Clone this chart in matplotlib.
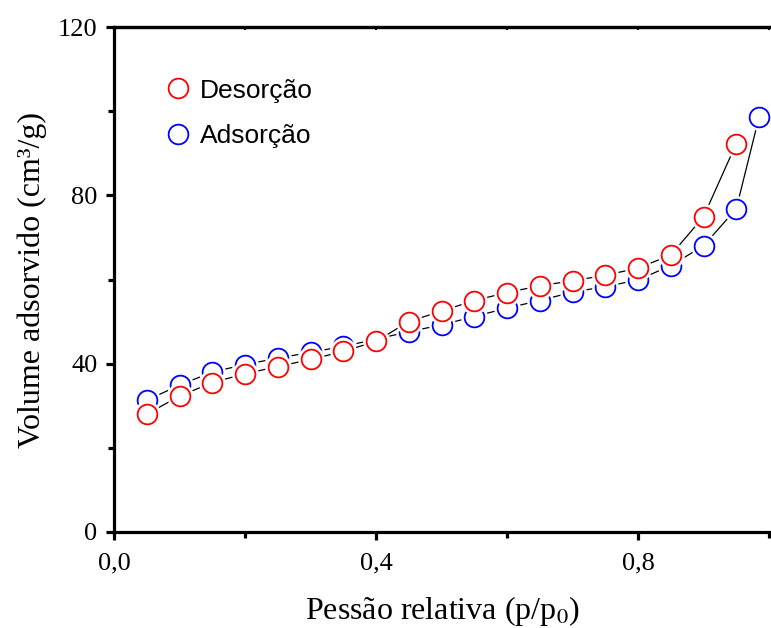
import matplotlib
matplotlib.use("Agg")
import matplotlib.pyplot as plt
from matplotlib.ticker import MultipleLocator, FuncFormatter
from matplotlib.lines import Line2D

plt.rcParams["mathtext.fontset"] = "stix"

# Data
p_des = [0.05, 0.10, 0.15, 0.20, 0.25, 0.30, 0.35, 0.40, 0.45, 0.50,
         0.55, 0.60, 0.65, 0.70, 0.75, 0.80, 0.85, 0.90, 0.95]
v_des = [28.0, 32.3, 35.5, 37.6, 39.3, 41.0, 42.9, 45.3, 50.0, 52.5,
         55.0, 56.9, 58.5, 59.7, 61.0, 62.7, 65.8, 74.9, 92.3]
p_ads = [0.05, 0.10, 0.15, 0.20, 0.25, 0.30, 0.35, 0.40, 0.45, 0.50,
         0.55, 0.60, 0.65, 0.70, 0.75, 0.80, 0.85, 0.90, 0.95, 0.985]
v_ads = [31.3, 34.9, 38.0, 39.8, 41.3, 42.7, 44.1, 45.8, 47.6, 49.2,
         51.2, 53.2, 55.0, 57.0, 58.3, 59.9, 63.3, 68.0, 76.8, 98.7]
labels = ["Desorção", "Adsorção"]
xlabel = "Pessão relativa (p/p$_\\mathrm{0}$)"
ylabel = "Volume adsorvido (cm³/g)"

W, H = 771, 628
fig = plt.figure(figsize=(W / 100, H / 100), dpi=100)
ax = fig.add_axes([114 / W, (H - 532) / H, (W - 114) / W, (532 - 27) / H])

ms = 14.2
for xs, ys, col, z in [(p_ads, v_ads, "blue", 2), (p_des, v_des, "red", 4)]:
    ax.plot(xs, ys, color="black", lw=0.9, zorder=z)
    ax.plot(xs, ys, ls="none", marker="o", ms=ms + 5, mfc="white", mec="none", zorder=z + 0.5)
    ax.plot(xs, ys, ls="none", marker="o", ms=ms, mfc="white", mec=col, mew=1.3, zorder=z + 0.6)

ax.set_xlim(0, (W - 114) / 655.0)
ax.set_ylim(0, 120)
ax.xaxis.set_major_locator(MultipleLocator(0.4))
ax.xaxis.set_minor_locator(MultipleLocator(0.2))
ax.yaxis.set_major_locator(MultipleLocator(40))
ax.yaxis.set_minor_locator(MultipleLocator(20))
ax.xaxis.set_major_formatter(FuncFormatter(lambda v, p: f"{v:.1f}".replace(".", ",")))
ax.yaxis.set_major_formatter(FuncFormatter(lambda v, p: f"{v:.0f}"))

for s in ["left", "bottom", "top"]:
    ax.spines[s].set_linewidth(2.3)
ax.spines["right"].set_visible(False)

ax.tick_params(axis="both", which="major", direction="out", length=6, width=2.3,
               labelsize=19, pad=6)
ax.tick_params(axis="x", which="major", pad=9)
ax.tick_params(axis="both", which="minor", direction="out", length=4, width=2.3)
for lab in ax.get_xticklabels() + ax.get_yticklabels():
    lab.set_family("Liberation Serif")

# small inward ticks on the top spine
sec = ax.secondary_xaxis("top")
sec.xaxis.set_major_locator(MultipleLocator(0.4))
sec.xaxis.set_minor_locator(MultipleLocator(0.2))
sec.tick_params(which="both", direction="in", length=2, width=1.5, labeltop=False)
sec.spines["top"].set_linewidth(2.3)

ax.set_xlabel(xlabel, fontsize=23, family="Liberation Serif", labelpad=14)
ax.set_ylabel(ylabel, fontsize=23, family="Liberation Serif", labelpad=8)

handles = [Line2D([], [], ls="none", marker="o", ms=ms, mfc="white", mec="red", mew=1.3),
           Line2D([], [], ls="none", marker="o", ms=ms, mfc="white", mec="blue", mew=1.3)]
leg = ax.legend(handles, labels, loc="upper left", bbox_to_anchor=(0.043, 0.945),
                frameon=False, prop={"family": "Liberation Sans", "size": 19},
                handlelength=0.9, handletextpad=0.4, labelspacing=0.82)

fig.savefig("out.png", dpi=100)
